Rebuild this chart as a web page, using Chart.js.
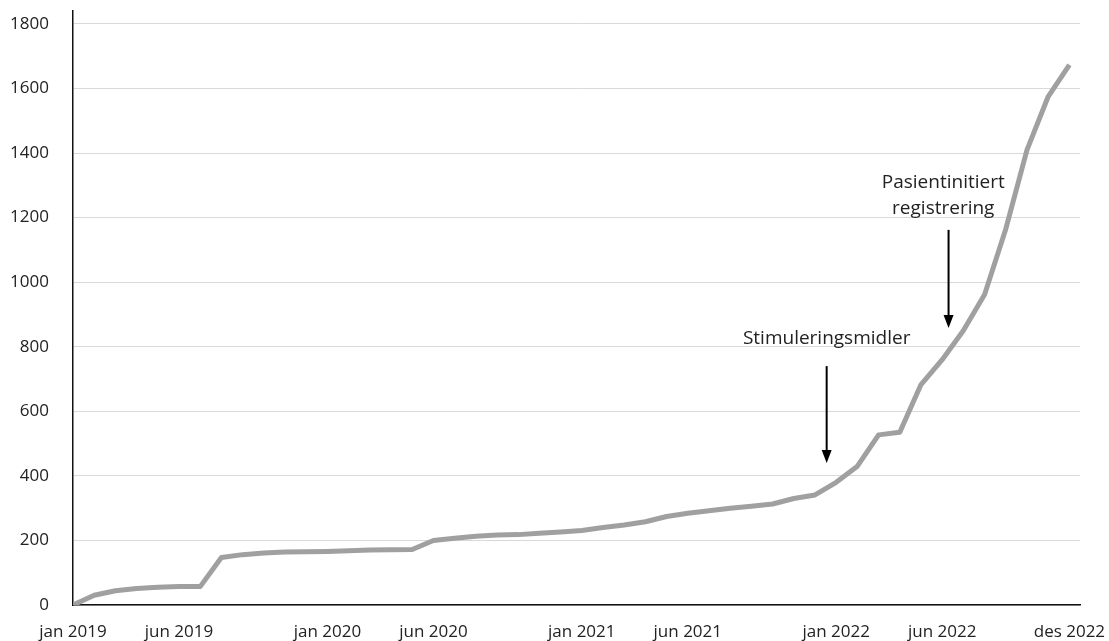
<!DOCTYPE html>
<html>
<head>
<meta charset="utf-8">
<script src="https://cdn.jsdelivr.net/npm/chart.js@4/dist/chart.umd.min.js"></script>
<style>
    html, body { margin: 0; padding: 0; background: #fff; }
    #wrap { width: 1109px; height: 641px; }
</style>
</head>
<body>
<div id="wrap"><canvas id="grafRegistrering"></canvas></div>
<script>
// maaneder fra jan 2019 (0) til des 2022 (47)
const maaneder = [
    'jan 2019', 'feb 2019', 'mar 2019', 'apr 2019', 'mai 2019', 'jun 2019',
    'jul 2019', 'aug 2019', 'sep 2019', 'okt 2019', 'nov 2019', 'des 2019',
    'jan 2020', 'feb 2020', 'mar 2020', 'apr 2020', 'mai 2020', 'jun 2020',
    'jul 2020', 'aug 2020', 'sep 2020', 'okt 2020', 'nov 2020', 'des 2020',
    'jan 2021', 'feb 2021', 'mar 2021', 'apr 2021', 'mai 2021', 'jun 2021',
    'jul 2021', 'aug 2021', 'sep 2021', 'okt 2021', 'nov 2021', 'des 2021',
    'jan 2022', 'feb 2022', 'mar 2022', 'apr 2022', 'mai 2022', 'jun 2022',
    'jul 2022', 'aug 2022', 'sep 2022', 'okt 2022', 'nov 2022', 'des 2022'
];
const verdier = [
    0, 30, 44, 51, 55, 57,
    57, 147, 156, 161, 164, 165,
    166, 168, 170, 171, 172, 200,
    207, 213, 217, 218, 222, 226,
    231, 240, 248, 258, 274, 284,
    292, 300, 306, 313, 330, 341,
    380, 430, 527, 535, 683, 760,
    850, 962, 1165, 1410, 1575, 1673
];
// maaneder som faar etikett paa x-aksen
const etikettIndekser = [0, 5, 12, 17, 24, 29, 36, 41, 47];
const yTicks = [0, 200, 400, 600, 800, 1000, 1200, 1400, 1600, 1800];

// merknader med pil (x = maanedsindeks, y = verdi)
const merknader = [
    { tekst: ['Stimuleringsmidler'], x: 35.55, tekstY: 826, pilFra: 740, pilTil: 440 },
    { tekst: ['Pasientinitiert', 'registrering'], x: 41.05, tekstY: 1310, pilFra: 1162, pilTil: 858, pilX: 41.3 }
];

const skrift = '"Open Sans", "DejaVu Sans", sans-serif';

const merknadPlugin = {
    id: 'merknader',
    afterDatasetsDraw(chart) {
        const ctx = chart.ctx;
        const xs = chart.scales.x;
        const ys = chart.scales.y;
        ctx.save();
        merknader.forEach(m => {
            const tx = xs.getPixelForValue(m.x);
            ctx.fillStyle = '#222';
            ctx.font = '19px ' + skrift;
            ctx.textAlign = 'center';
            ctx.textBaseline = 'middle';
            m.tekst.forEach((t, i) => {
                ctx.fillText(t, tx, ys.getPixelForValue(m.tekstY) + i * 26);
            });
            const px = xs.getPixelForValue(m.pilX !== undefined ? m.pilX : m.x);
            const y1 = ys.getPixelForValue(m.pilFra);
            const y2 = ys.getPixelForValue(m.pilTil);
            ctx.strokeStyle = '#000';
            ctx.lineWidth = 2;
            ctx.beginPath();
            ctx.moveTo(px, y1);
            ctx.lineTo(px, y2 - 12);
            ctx.stroke();
            ctx.fillStyle = '#000';
            ctx.beginPath();
            ctx.moveTo(px - 5, y2 - 13);
            ctx.lineTo(px + 5, y2 - 13);
            ctx.lineTo(px, y2);
            ctx.closePath();
            ctx.fill();
        });
        ctx.restore();
    }
};

const dataPunkter = verdier.map((v, i) => ({ x: i, y: v }));

const config = {
    type: 'line',
    data: {
        datasets: [{
            label: 'Registreringer',
            data: dataPunkter,
            borderColor: '#a0a0a0',
            borderWidth: 5,
            pointRadius: 0,
            tension: 0,
            borderJoinStyle: 'round'
        }]
    },
    options: {
        responsive: true,
        maintainAspectRatio: false,
        animation: false,
        layout: { padding: { top: 11, right: 29, left: 0, bottom: 0 } },
        plugins: {
            legend: { display: false },
            tooltip: { enabled: false }
        },
        scales: {
            x: {
                type: 'linear',
                min: 0,
                max: 47.5,
                afterBuildTicks(scale) {
                    scale.ticks = etikettIndekser.map(v => ({ value: v }));
                },
                afterFit(scale) {
                    scale.height = 36;
                    scale.paddingLeft = 0;
                    scale.paddingRight = 0;
                },
                ticks: {
                    autoSkip: false,
                    maxRotation: 0,
                    padding: 17,
                    color: '#222',
                    font: { family: skrift, size: 17 },
                    callback: v => maaneder[v]
                },
                grid: { display: false, drawTicks: false },
                border: { display: true, color: '#111', width: 1.5 }
            },
            y: {
                min: 0,
                max: 1840,
                afterBuildTicks(scale) {
                    scale.ticks = yTicks.map(v => ({ value: v }));
                },
                afterFit(scale) {
                    scale.width = 73;
                    scale.paddingTop = 0;
                    scale.paddingBottom = 0;
                },
                ticks: {
                    padding: 24,
                    color: '#222',
                    font: { family: skrift, size: 17 },
                    callback: v => String(v)
                },
                grid: { color: '#d9d9d9', lineWidth: 1, drawTicks: false },
                border: { display: true, color: '#111', width: 1.5 }
            }
        }
    },
    plugins: [merknadPlugin]
};

const grafRegistrering = new Chart(
    document.getElementById('grafRegistrering'),
    config
);
</script>
</body>
</html>
